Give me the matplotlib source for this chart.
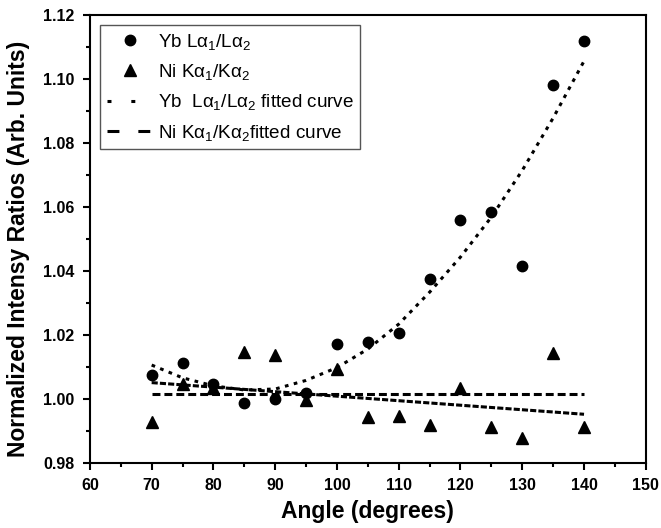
import matplotlib
matplotlib.use('Agg')
import matplotlib.pyplot as plt
from matplotlib.lines import Line2D

plt.rcParams['font.family'] = ['Liberation Sans', 'DejaVu Sans']
plt.rcParams['mathtext.fontset'] = 'custom'
plt.rcParams['mathtext.rm'] = 'Liberation Sans'
plt.rcParams['mathtext.it'] = 'Liberation Sans'
plt.rcParams['mathtext.bf'] = 'Liberation Sans:bold'

# measured ratios
angle = [70, 75, 80, 85, 90, 95, 100, 105, 110, 115, 120, 125, 130, 135, 140]
yb_ratio = [1.0074, 1.0112, 1.0045, 0.9987, 1.0000, 1.0016, 1.0170, 1.0178, 1.0204,
            1.0373, 1.0559, 1.0585, 1.0415, 1.0981, 1.1120]
ni_ratio = [0.9928, 1.0046, 1.0032, 1.0147, 1.0136, 0.9996, 1.0092, 0.9943, 0.9946,
            0.9917, 1.0032, 0.9912, 0.9876, 1.0142, 0.9912]

# fitted curves
yb_fit = [1.0105, 1.0065, 1.0040, 1.0027, 1.0030, 1.0057, 1.0097, 1.0155, 1.0233,
          1.0333, 1.0443, 1.0568, 1.0714, 1.0878, 1.1056]
ni_fit_x = [70, 140]
ni_fit = [1.0050, 0.9951]
ni_mean = [1.0014, 1.0014]

fig = plt.figure(figsize=(6.61, 5.28), dpi=100)
ax = fig.add_axes([0.136, 0.124, 0.841, 0.8475])

ax.plot(angle, yb_ratio, 'o', color='black', markersize=7.5)
ax.plot(angle, ni_ratio, '^', color='black', markersize=8.5)
ax.plot(angle, yb_fit, color='black', lw=2.2, linestyle=(0, (1.2, 1.8)))
ax.plot(ni_fit_x, ni_mean, color='black', lw=2.2, linestyle=(0, (2.6, 1.3)))
ax.plot(ni_fit_x, ni_fit, color='black', lw=2.2, linestyle=(0, (2.0, 0.7)))

ax.set_xlim(60, 150)
ax.set_ylim(0.98, 1.12)
ax.set_xticks(range(60, 151, 10))
ax.set_xticks(range(65, 150, 10), minor=True)
ax.set_yticks([0.98 + 0.02 * i for i in range(8)])
ax.set_yticks([0.99 + 0.02 * i for i in range(7)], minor=True)
ax.set_yticklabels(['%.2f' % (0.98 + 0.02 * i) for i in range(8)])

ax.tick_params(which='both', direction='out', top=False, right=False,
               width=1.5, labelsize=11.5, pad=6)
ax.tick_params(which='major', length=5)
ax.tick_params(which='minor', length=3)
for lab in ax.get_xticklabels() + ax.get_yticklabels():
    lab.set_fontweight('bold')
for sp in ax.spines.values():
    sp.set_linewidth(1.5)

ax.set_xlabel('Angle (degrees)', fontsize=16.5, fontweight='bold', labelpad=5)
ax.set_ylabel('Normalized Intensy Ratios (Arb. Units)', fontsize=16.5,
              fontweight='bold')
ax.yaxis.set_label_coords(-0.108, 0.477)

handles = [
    Line2D([], [], marker='o', color='black', linestyle='none', markersize=7.5),
    Line2D([], [], marker='^', color='black', linestyle='none', markersize=8.5),
    Line2D([], [], color='black', lw=2.2, linestyle=(0, (1.3, 6.5))),
    Line2D([], [], color='black', lw=2.2, linestyle=(0, (3.9, 6.2))),
]
labels = [r'Yb L$\alpha_{1}$/L$\alpha_{2}$',
          r'Ni K$\alpha_{1}$/K$\alpha_{2}$',
          r'Yb  L$\alpha_{1}$/L$\alpha_{2}$ fitted curve',
          r'Ni K$\alpha_{1}$/K$\alpha_{2}$fitted curve']
leg = ax.legend(handles, labels, loc='upper left', bbox_to_anchor=(0.018, 0.978),
                borderaxespad=0, fontsize=13.6, handlelength=2.5, handletextpad=0.2,
                labelspacing=0.55, fancybox=False, framealpha=1, borderpad=0.35)
leg.get_frame().set_edgecolor('#555555')
leg.get_frame().set_linewidth(1.0)

fig.savefig('out.png', dpi=100)
